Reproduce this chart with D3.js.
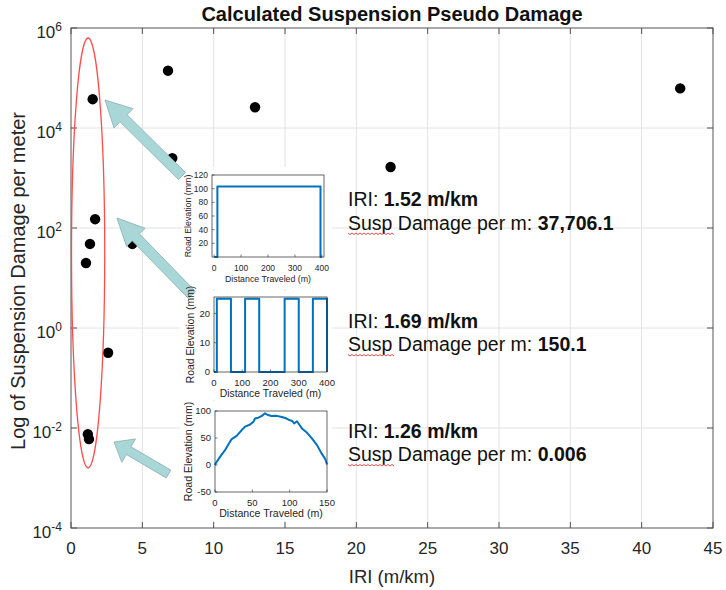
<!DOCTYPE html>
<html>
<head>
<meta charset="utf-8">
<script src="https://cdn.jsdelivr.net/npm/d3@7"></script>
<style>
  html, body { margin: 0; padding: 0; background: #fff; }
  svg { display: block; font-family: "Liberation Sans", Arial, sans-serif; }
</style>
</head>
<body>
<svg id="chart" width="726" height="590"></svg>
<script>
// ---- Road segments: roughness (IRI, m/km) vs. suspension pseudo damage per metre ----
const iri    = [1.52, 6.8, 12.9, 42.7, 7.1, 22.4, 1.69, 1.33, 1.05, 4.3, 2.6, 1.26, 1.18];
const damage = [37706.1, 140000, 26000, 62000, 2500, 1660, 150.1, 48, 20, 48, 0.32, 0.006, 0.0075];

const xTickValues = [0, 5, 10, 15, 20, 25, 30, 35, 40, 45];
const yTickExponents = [-4, -2, 0, 2, 4, 6];

// ---- Callout text for three highlighted segments ----
const calloutIri    = ["1.52 m/km", "1.69 m/km", "1.26 m/km"];
const calloutDamage = ["37,706.1", "150.1", "0.006"];

// ---- Road elevation profiles of the highlighted segments ----
// Single long plateau
const plateauDist = [0, 12, 12, 395, 395, 400];
const plateauElev = [0, 0, 103, 103, 0, 0];
// Repeated 25 mm blocks
const blocksDist = [0, 10, 10, 60, 60, 110, 110, 160, 160, 250, 250, 300, 300, 350, 350, 400, 400];
const blocksElev = [0, 0, 25, 25, 0, 0, 25, 25, 0, 0, 25, 25, 0, 0, 25, 25, 0];
// Gentle crest
const crestDist = [0, 0.9, 6.7, 13.4, 17.9, 22.4, 29, 35.8, 40.3, 47, 51.5, 53.7, 58.2, 62.7, 67, 70.7,
                   76, 82.8, 89.6, 96, 99.8, 103, 106, 109.7, 116.4, 123, 130, 136.6, 143, 147.8, 150];
const crestElev = [0, 2.7, 15, 27.5, 38, 48, 54, 64.7, 71, 75, 80, 86, 87.6, 91, 95.7, 92.6,
                   90.7, 91, 89, 86, 83, 82, 77, 81, 67.8, 60, 49, 36.8, 21, 10.7, 1];

const svg = d3.select("#chart");
const plot = { left: 71, right: 713, top: 28, bottom: 528 };

const x = d3.scaleLinear().domain([0, 45]).range([plot.left, plot.right]);
const y = d3.scaleLog().domain([1e-4, 1e6]).range([plot.bottom, plot.top]);

const ink = "#262626";
const gridColor = "#e2e2e2";

// ---- grid ----
const grid = svg.append("g");
grid.selectAll("line.vx").data(xTickValues.slice(1, -1)).join("line")
  .attr("x1", d => x(d)).attr("x2", d => x(d))
  .attr("y1", plot.top).attr("y2", plot.bottom)
  .attr("stroke", gridColor).attr("stroke-width", 1);
grid.selectAll("line.hy").data(yTickExponents.slice(1, -1)).join("line")
  .attr("x1", plot.left).attr("x2", plot.right)
  .attr("y1", d => y(Math.pow(10, d))).attr("y2", d => y(Math.pow(10, d)))
  .attr("stroke", gridColor).attr("stroke-width", 1);

// ---- axes (MATLAB style: box with inward ticks) ----
const tickLen = 6;
const axisG = svg.append("g");
axisG.selectAll("line.xb").data(xTickValues).join("line")
  .attr("x1", d => x(d)).attr("x2", d => x(d))
  .attr("y1", plot.bottom).attr("y2", plot.bottom - tickLen)
  .attr("stroke", "#555");
axisG.selectAll("line.xt").data(xTickValues).join("line")
  .attr("x1", d => x(d)).attr("x2", d => x(d))
  .attr("y1", plot.top).attr("y2", plot.top + tickLen)
  .attr("stroke", "#555");
axisG.selectAll("line.yl").data(yTickExponents).join("line")
  .attr("x1", plot.left).attr("x2", plot.left + tickLen)
  .attr("y1", d => y(Math.pow(10, d))).attr("y2", d => y(Math.pow(10, d)))
  .attr("stroke", "#555");
axisG.selectAll("line.yr").data(yTickExponents).join("line")
  .attr("x1", plot.right).attr("x2", plot.right - tickLen)
  .attr("y1", d => y(Math.pow(10, d))).attr("y2", d => y(Math.pow(10, d)))
  .attr("stroke", "#555");
axisG.append("rect")
  .attr("x", plot.left).attr("y", plot.top)
  .attr("width", plot.right - plot.left).attr("height", plot.bottom - plot.top)
  .attr("fill", "none").attr("stroke", "#555").attr("stroke-width", 1);

// tick labels
axisG.selectAll("text.xl").data(xTickValues).join("text")
  .attr("x", d => x(d)).attr("y", plot.bottom + 26)
  .attr("text-anchor", "middle").attr("font-size", 17).attr("fill", ink)
  .text(d => d);
const yLab = axisG.selectAll("text.yl").data(yTickExponents).join("text")
  .attr("x", plot.left - 9).attr("y", d => y(Math.pow(10, d)) + 10)
  .attr("text-anchor", "end").attr("fill", ink);
yLab.append("tspan").attr("font-size", 17).text("10");
yLab.append("tspan").attr("font-size", 12).attr("dy", -7).text(d => d);

// axis titles
svg.append("text")
  .attr("x", (plot.left + plot.right) / 2).attr("y", 21)
  .attr("text-anchor", "middle").attr("font-size", 20).attr("font-weight", "bold").attr("fill", "#111")
  .text("Calculated Suspension Pseudo Damage");
svg.append("text")
  .attr("x", (plot.left + plot.right) / 2).attr("y", 583)
  .attr("text-anchor", "middle").attr("font-size", 18.5).attr("fill", ink)
  .text("IRI (m/km)");
svg.append("text")
  .attr("transform", `translate(25,${(plot.top + plot.bottom) / 2 + 3}) rotate(-90)`)
  .attr("text-anchor", "middle").attr("font-size", 20).attr("fill", ink)
  .text("Log of Suspension Damage per meter");

// ---- data points ----
svg.append("g").selectAll("circle").data(d3.range(iri.length)).join("circle")
  .attr("cx", i => x(iri[i])).attr("cy", i => y(damage[i]))
  .attr("r", 5.2).attr("fill", "#000");

// ---- ellipse around the low-IRI cluster (data units) ----
const ringIri = [0, 2.4];           // IRI span
const ringLog = [-2.8, 5.8];        // log10 damage span
svg.append("ellipse")
  .attr("cx", (x(ringIri[0]) + x(ringIri[1])) / 2)
  .attr("cy", (y(Math.pow(10, ringLog[0])) + y(Math.pow(10, ringLog[1]))) / 2)
  .attr("rx", (x(ringIri[1]) - x(ringIri[0])) / 2 - 0.5)
  .attr("ry", (y(Math.pow(10, ringLog[0])) - y(Math.pow(10, ringLog[1]))) / 2)
  .attr("fill", "none").attr("stroke", "#ff4b4b").attr("stroke-width", 1.3);

// ---- inset panels ----
const insets = [
  { box: [212, 324, 175, 257], bg: [182, 167, 150, 122], xd: [-8, 408], yd: [0, 120],
    xt: [0, 100, 200, 300, 400], yt: [20, 40, 60, 80, 100, 120],
    dist: plateauDist, elev: plateauElev, tickFont: 8.5, labelFont: 8.8, yLabelX: 191 },
  { box: [214, 327, 297, 372], bg: [180, 291, 152, 109], xd: [0, 400], yd: [0, 25.6],
    xt: [0, 100, 200, 300, 400], yt: [0, 10, 20],
    dist: blocksDist, elev: blocksElev, tickFont: 9.5, labelFont: 10.4, yLabelX: 194 },
  { box: [215, 327, 411, 492], bg: [180, 401, 152, 120], xd: [0, 150], yd: [-50, 100],
    xt: [0, 50, 100, 150], yt: [-50, 0, 50, 100],
    dist: crestDist, elev: crestElev, tickFont: 9.5, labelFont: 10.6, yLabelX: 192 }
];

// white backgrounds first so arrows can sit between them and the inset content
insets.forEach(p => {
  svg.append("rect").attr("x", p.bg[0]).attr("y", p.bg[1])
    .attr("width", p.bg[2]).attr("height", p.bg[3]).attr("fill", "#fff");
});

// ---- block arrows pointing at the highlighted points ----
function blockArrow(tip, tail, w, hl, hw) {
  const dx = tip[0] - tail[0], dy = tip[1] - tail[1];
  const L = Math.hypot(dx, dy);
  const ux = dx / L, uy = dy / L, nx = -uy, ny = ux;
  const bx = tip[0] - ux * hl, by = tip[1] - uy * hl;
  const pts = [
    [tail[0] + nx * w / 2, tail[1] + ny * w / 2],
    [bx + nx * w / 2, by + ny * w / 2],
    [bx + nx * hw / 2, by + ny * hw / 2],
    tip,
    [bx - nx * hw / 2, by - ny * hw / 2],
    [bx - nx * w / 2, by - ny * w / 2],
    [tail[0] - nx * w / 2, tail[1] - ny * w / 2]
  ];
  return "M" + pts.map(p => p.join(",")).join("L") + "Z";
}
const arrows = [
  { tip: [105, 100], tail: [182, 176], w: 10, hl: 26, hw: 27 },
  { tip: [117, 218], tail: [192, 295], w: 10, hl: 27, hw: 26 },
  { tip: [114, 442], tail: [168.5, 474], w: 9, hl: 17, hw: 27 }
];
svg.append("g").selectAll("path").data(arrows).join("path")
  .attr("d", a => blockArrow(a.tip, a.tail, a.w, a.hl, a.hw))
  .attr("fill", "#a9d6d7").attr("stroke", "#86aeb0").attr("stroke-width", 0.8);

// inset content
insets.forEach(p => {
  const [x0, x1, y0, y1] = p.box;
  const g = svg.append("g");
  const sx = d3.scaleLinear().domain(p.xd).range([x0, x1]);
  const sy = d3.scaleLinear().domain(p.yd).range([y1, y0]);

  g.selectAll("line.tx").data(p.xt).join("line")
    .attr("x1", d => sx(d)).attr("x2", d => sx(d)).attr("y1", y1).attr("y2", y1 - 2.5)
    .attr("stroke", ink).attr("stroke-width", 0.6);
  g.selectAll("line.ty").data(p.yt).join("line")
    .attr("x1", x0).attr("x2", x0 + 2.5).attr("y1", d => sy(d)).attr("y2", d => sy(d))
    .attr("stroke", ink).attr("stroke-width", 0.6);

  const line = d3.line().x((d, i) => sx(p.dist[i])).y((d, i) => sy(p.elev[i]));
  g.append("path").datum(p.elev).attr("d", line)
    .attr("fill", "none").attr("stroke", "#0072BD").attr("stroke-width", 2)
    .attr("stroke-linejoin", "round");

  g.append("rect").attr("x", x0).attr("y", y0).attr("width", x1 - x0).attr("height", y1 - y0)
    .attr("fill", "none").attr("stroke", ink).attr("stroke-width", 0.7);

  g.selectAll("text.xt").data(p.xt).join("text")
    .attr("x", d => sx(d)).attr("y", y1 + 14).attr("text-anchor", "middle")
    .attr("font-size", p.tickFont).attr("fill", ink).text(d => d);
  g.selectAll("text.yt").data(p.yt).join("text")
    .attr("x", x0 - 4).attr("y", d => sy(d) + p.tickFont * 0.36).attr("text-anchor", "end")
    .attr("font-size", p.tickFont).attr("fill", ink).text(d => d);

  g.append("text").attr("x", (x0 + x1) / 2).attr("y", y1 + 24.5).attr("text-anchor", "middle")
    .attr("font-size", p.labelFont).attr("fill", ink).text("Distance Traveled (m)");
  g.append("text").attr("transform", `translate(${p.yLabelX},${(y0 + y1) / 2}) rotate(-90)`)
    .attr("text-anchor", "middle").attr("font-size", p.labelFont).attr("fill", ink)
    .text("Road Elevation (mm)");
});

// ---- callout text ----
const calloutBase = [206, 327.5, 437.5];
const lineGap = 23.5;
const textX = 348;
const fs = 19.5;
calloutBase.forEach((b, i) => {
  const t1 = svg.append("text").attr("x", textX).attr("y", b).attr("font-size", fs).attr("fill", "#111");
  t1.append("tspan").text("IRI: ");
  t1.append("tspan").attr("font-weight", "bold").text(calloutIri[i]);

  const t2 = svg.append("text").attr("x", textX).attr("y", b + lineGap).attr("font-size", fs).attr("fill", "#111");
  const first = t2.append("tspan").text("Susp");
  t2.append("tspan").text(" Damage per m: ");
  t2.append("tspan").attr("font-weight", "bold").text(calloutDamage[i]);

  // spell-check style squiggle under "Susp"
  const wLen = first.node().getComputedTextLength();
  const sy0 = b + lineGap + 3.5;
  let d = `M${textX},${sy0}`;
  for (let k = 0, px = textX; px < textX + wLen; k++) {
    px += 2;
    d += `L${px},${sy0 + (k % 2 === 0 ? 1.5 : 0)}`;
  }
  svg.append("path").attr("d", d).attr("fill", "none").attr("stroke", "#e23b3b").attr("stroke-width", 0.9);
});
</script>
</body>
</html>
